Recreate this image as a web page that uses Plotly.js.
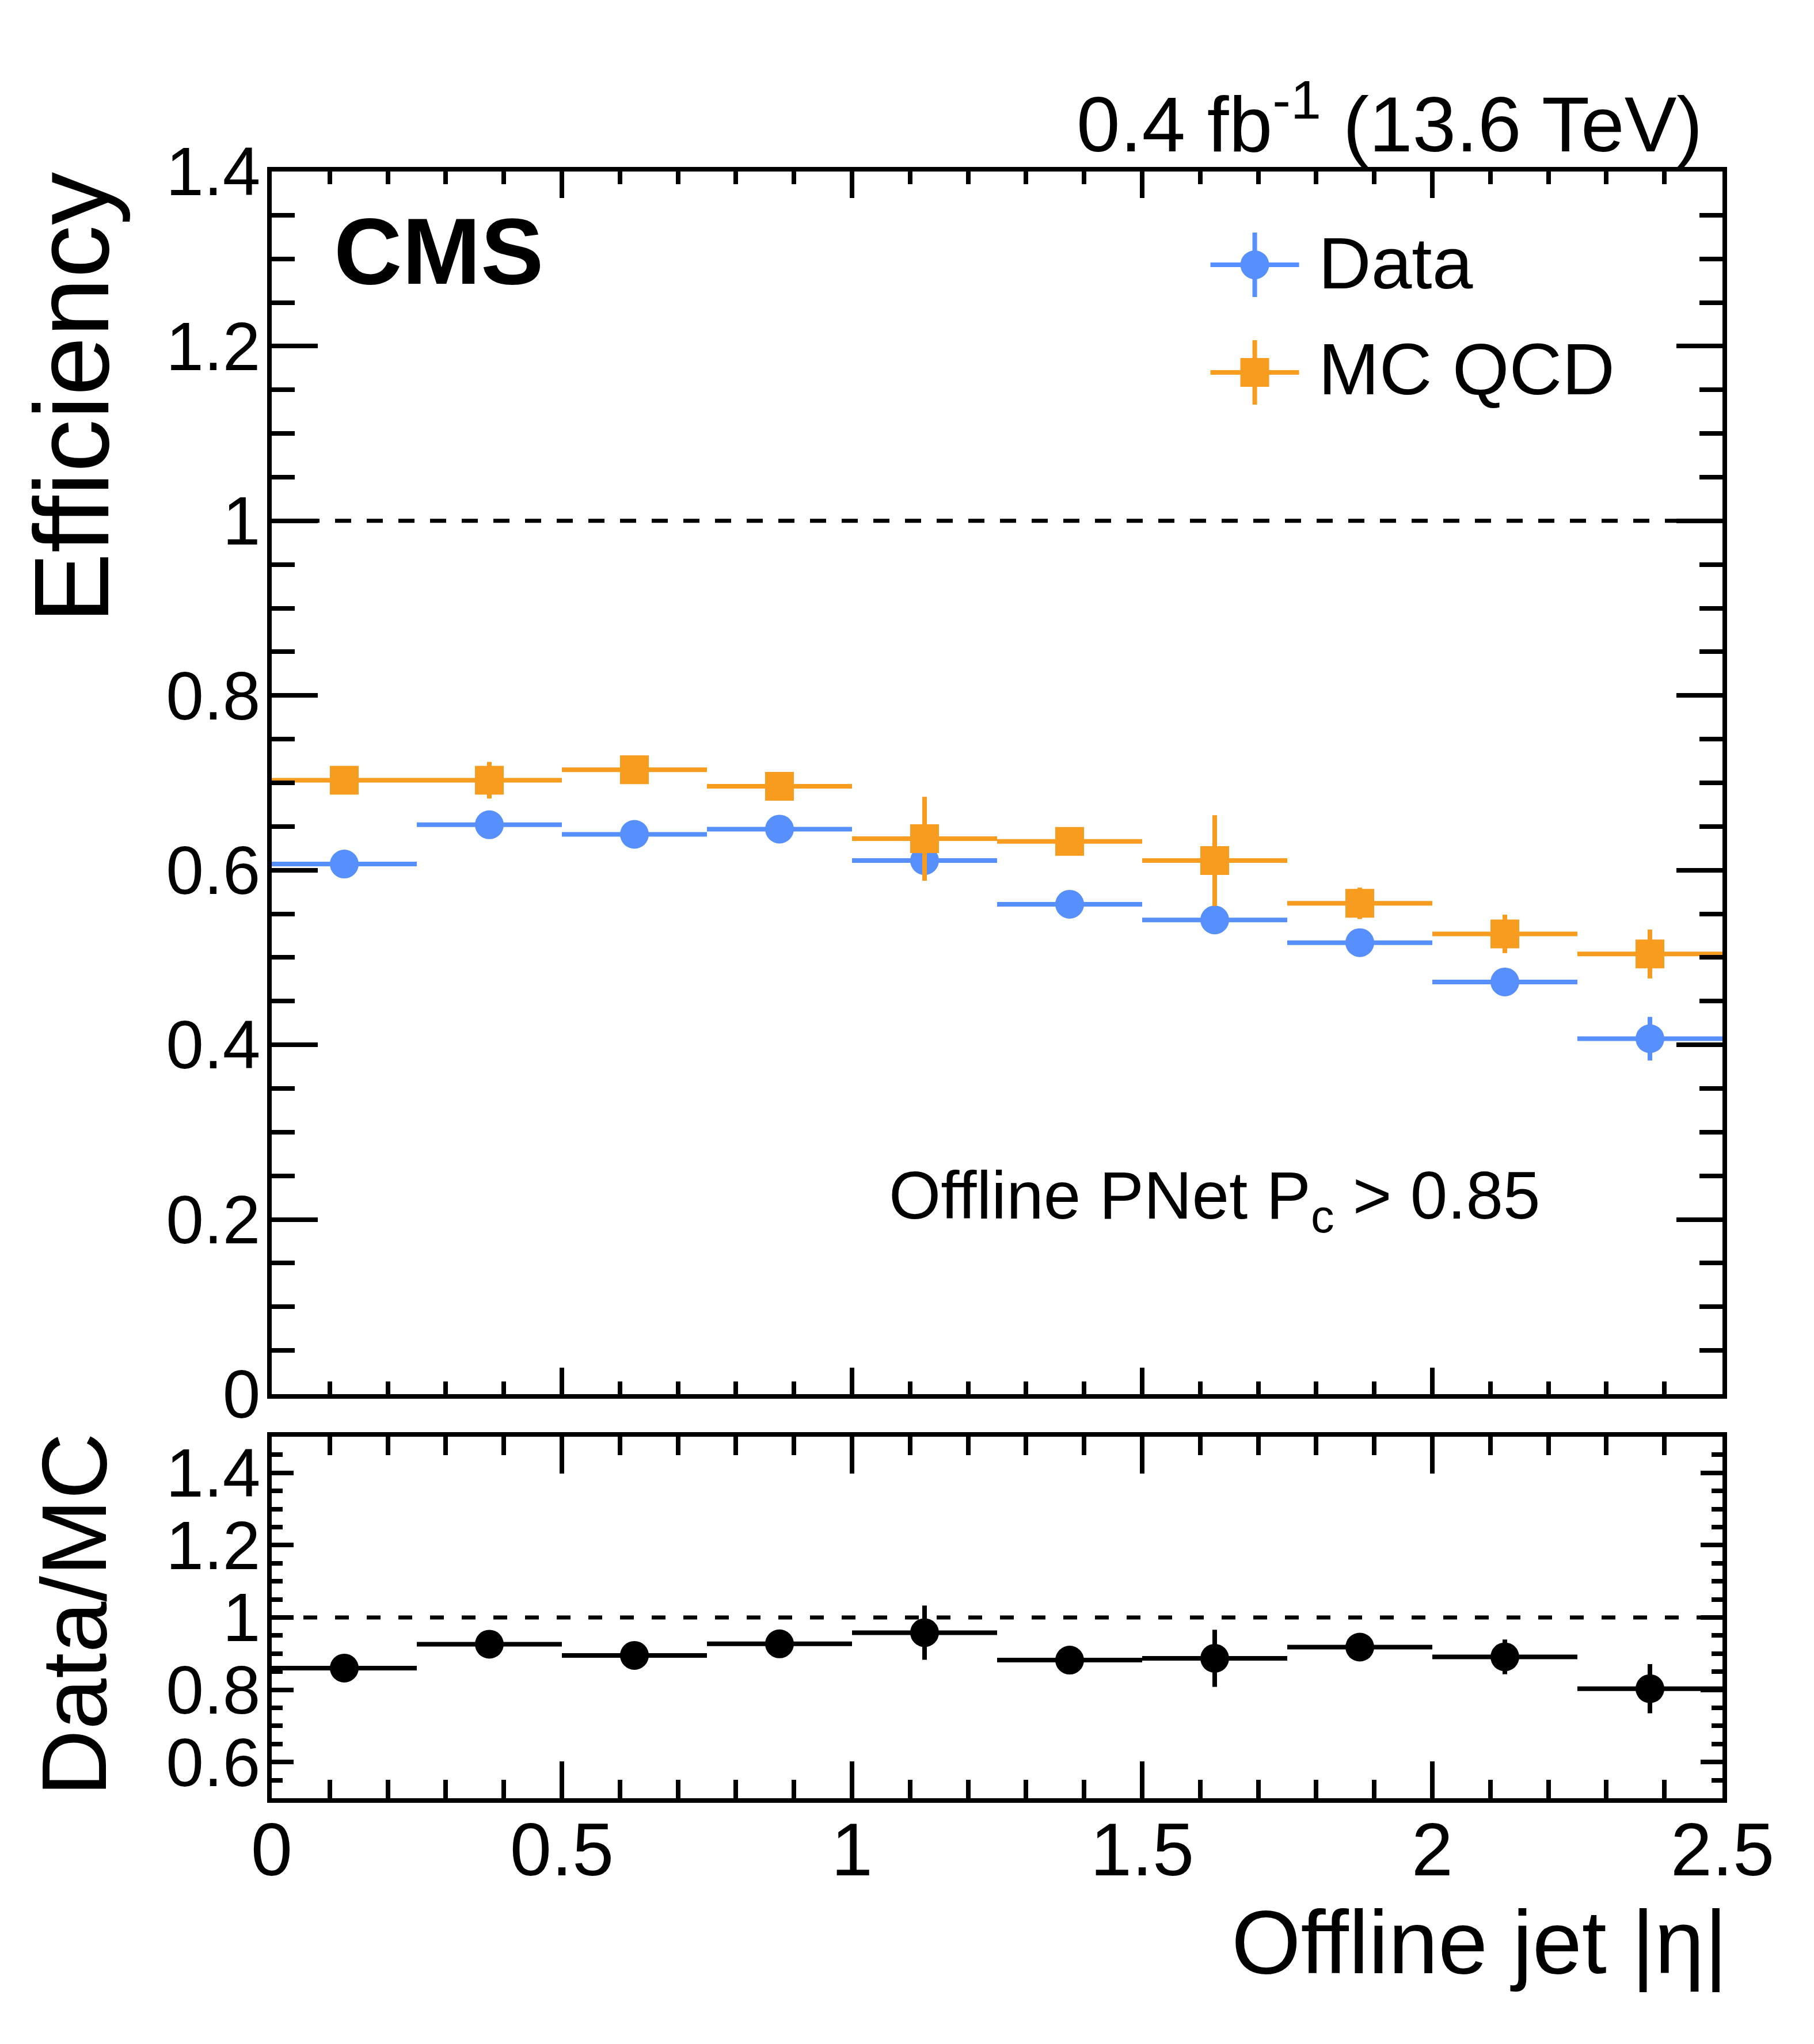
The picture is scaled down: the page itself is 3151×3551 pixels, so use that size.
<!DOCTYPE html>
<html>
<head>
<meta charset="utf-8">
<script src="https://cdn.plot.ly/plotly-3.0.1.min.js"></script>
<style>
  html, body { margin: 0; padding: 0; background: white; }
  #chart { width: 3151px; height: 3551px; }
</style>
</head>
<body>
<div id="chart"></div>
<script>
// bin centres and half widths in offline jet |eta|
var etaCenters = [0.125, 0.375, 0.625, 0.875, 1.125, 1.375, 1.625, 1.875, 2.125, 2.375];
var etaHalfWidth = [0.125, 0.125, 0.125, 0.125, 0.125, 0.125, 0.125, 0.125, 0.125, 0.125];

// efficiency in data
var effData = [0.607, 0.652, 0.641, 0.647, 0.611, 0.561, 0.543, 0.517, 0.472, 0.407];
var effDataErr = [0.010, 0.010, 0.010, 0.010, 0.012, 0.010, 0.012, 0.010, 0.010, 0.025];

// efficiency in MC QCD
var effMC = [0.703, 0.703, 0.715, 0.696, 0.636, 0.633, 0.611, 0.562, 0.527, 0.504];
var effMCErr = [0.010, 0.021, 0.010, 0.010, 0.048, 0.012, 0.052, 0.018, 0.022, 0.028];

// data / MC ratio
var ratio = [0.860, 0.926, 0.895, 0.927, 0.958, 0.882, 0.887, 0.918, 0.891, 0.803];
var ratioErr = [0.025, 0.025, 0.025, 0.025, 0.075, 0.025, 0.079, 0.025, 0.048, 0.068];

var BLUE = "#5790fc";
var ORANGE = "#f89c20";
var FONT = "Liberation Sans, Arial, Helvetica, sans-serif";

// page geometry (pixels)
var W = 3151, H = 3551;
var L = 472, R = 2992, T = 298, B = 3124;
var MAIN_BOTTOM = 2422, RATIO_TOP = 2496;
function px(x) { return (x - L) / (R - L); }
function py(y) { return (B - y) / (B - T); }

// legend symbol placement (main axis units)
var legX = 1.694, legDx = 0.0764, legDy = 0.0369;
var legYData = 1.2932, legYMC = 1.170;

function points(x, y, ex, ey, color, symbol, xa, ya) {
  return {
    x: x, y: y, xaxis: xa, yaxis: ya,
    type: "scatter", mode: "markers", showlegend: false,
    marker: { color: color, size: 50, symbol: symbol, line: { width: 0 } },
    error_x: { type: "data", array: ex, visible: true, width: 0, thickness: 8, color: color },
    error_y: { type: "data", array: ey, visible: true, width: 0, thickness: 8, color: color },
    hoverinfo: "skip"
  };
}

var data = [
  points(etaCenters, effData, etaHalfWidth, effDataErr, BLUE, "circle", "x", "y"),
  points(etaCenters, effMC, etaHalfWidth, effMCErr, ORANGE, "square", "x", "y"),
  points(etaCenters, ratio, etaHalfWidth, ratioErr, "black", "circle", "x2", "y2"),
  // legend symbols
  points([legX], [legYData], [legDx], [legDy], BLUE, "circle", "x", "y"),
  points([legX], [legYMC], [legDx], [legDy], ORANGE, "square", "x", "y")
];

function axisBase(extra) {
  var a = {
    showline: true, linecolor: "black", linewidth: 8, mirror: "ticks",
    ticks: "inside", tickcolor: "black", tickwidth: 8,
    showgrid: false, zeroline: false, fixedrange: true,
    tickfont: { family: FONT, size: 118, color: "black" },
    ticklabelstandoff: -12
  };
  for (var k in extra) a[k] = extra[k];
  return a;
}

function minorTicks(step, len) {
  return { dtick: step, ticklen: len, tickwidth: 8, tickcolor: "black", ticks: "inside", showgrid: false };
}

var layout = {
  width: W, height: H,
  margin: { l: L, r: W - R, t: T, b: H - B, pad: 0 },
  paper_bgcolor: "white", plot_bgcolor: "white",
  showlegend: false,
  font: { family: FONT, color: "black" },
  xaxis: axisBase({
    domain: [0, 1], anchor: "y", range: [0, 2.5],
    dtick: 0.5, tick0: 0, ticklen: 46, showticklabels: false,
    minor: minorTicks(0.1, 22)
  }),
  yaxis: axisBase({
    domain: [py(MAIN_BOTTOM), 1], anchor: "x", range: [0, 1.4],
    dtick: 0.2, tick0: 0, ticklen: 80,
    minor: minorTicks(0.05, 40)
  }),
  xaxis2: axisBase({
    domain: [0, 1], anchor: "y2", range: [0, 2.5],
    dtick: 0.5, tick0: 0, ticklen: 64,
    tickfont: { family: FONT, size: 130, color: "black" },
    ticklabelstandoff: -30,
    minor: minorTicks(0.1, 32)
  }),
  yaxis2: axisBase({
    domain: [0, py(RATIO_TOP)], anchor: "x2", range: [0.5, 1.5],
    tickvals: [0.6, 0.8, 1, 1.2, 1.4], ticktext: ["0.6", "0.8", "1", "1.2", "1.4"],
    ticklen: 38,
    minor: minorTicks(0.05, 19)
  }),
  shapes: [
    { type: "line", xref: "x", yref: "y", x0: 0, x1: 2.5, y0: 1, y1: 1,
      line: { color: "black", width: 7, dash: "28px,27px" }, layer: "below" },
    { type: "line", xref: "x2", yref: "y2", x0: 0, x1: 2.5, y0: 1, y1: 1,
      line: { color: "black", width: 7, dash: "24px,31px" }, layer: "below" }
  ],
  annotations: [
    { text: "0.4 fb<sup>-1</sup> (13.6 TeV)", xref: "paper", yref: "paper",
      x: px(2960), y: py(264 + 30), xanchor: "right", yanchor: "bottom", showarrow: false,
      font: { family: FONT, size: 136, color: "black" } },
    { text: "<b>CMS</b>", xref: "paper", yref: "paper",
      x: px(578), y: py(494 + 36), xanchor: "left", yanchor: "bottom", showarrow: false,
      font: { family: FONT, size: 164, color: "black" } },
    { text: "Data", xref: "paper", yref: "paper",
      x: px(2288), y: py(502 + 28), xanchor: "left", yanchor: "bottom", showarrow: false,
      font: { family: FONT, size: 127, color: "black" } },
    { text: "MC QCD", xref: "paper", yref: "paper",
      x: px(2288), y: py(686 + 28), xanchor: "left", yanchor: "bottom", showarrow: false,
      font: { family: FONT, size: 127, color: "black" } },
    { text: "Offline PNet P<sub>c</sub> &gt; 0.85", xref: "paper", yref: "paper",
      x: px(1542), y: py(2134 + 26), xanchor: "left", yanchor: "bottom", showarrow: false,
      font: { family: FONT, size: 116, color: "black" } },
    { text: "Offline jet |η|", xref: "paper", yref: "paper",
      x: px(3003), y: py(3428 + 35), xanchor: "right", yanchor: "bottom", showarrow: false,
      font: { family: FONT, size: 155, color: "black" } },
    { text: "Efficiency", xref: "paper", yref: "paper", textangle: -90,
      x: px(124), y: py(297), xanchor: "center", yanchor: "top", showarrow: false,
      font: { family: FONT, size: 184, color: "black" } },
    { text: "Data/MC", xref: "paper", yref: "paper", textangle: -90,
      x: px(128), y: py(2488), xanchor: "center", yanchor: "top", showarrow: false,
      font: { family: FONT, size: 160, color: "black" } }
  ]
};

Plotly.newPlot("chart", data, layout, { staticPlot: true, displayModeBar: false });
</script>
</body>
</html>
